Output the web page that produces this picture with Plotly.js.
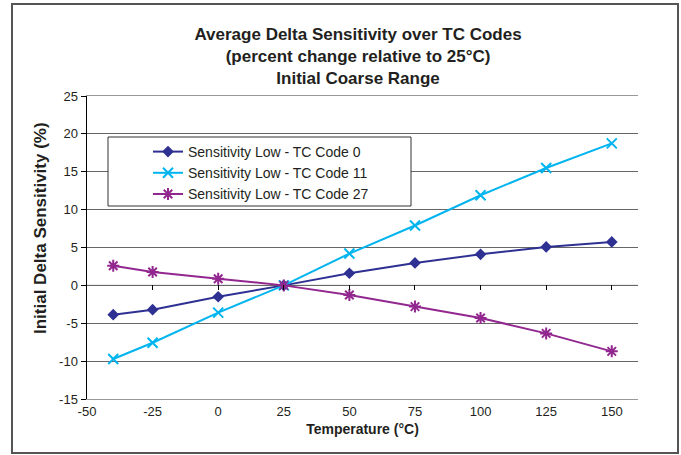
<!DOCTYPE html>
<html>
<head>
<meta charset="utf-8">
<script src="https://cdn.plot.ly/plotly-3.0.1.min.js"></script>
<style>html,body{margin:0;padding:0;background:#fff;}#chart{width:681px;height:455px;}</style>
</head>
<body>
<div id="chart"></div>
<script>
const temperatures = [-40, -25, 0, 25, 50, 75, 100, 125, 150];
const tcCode0 = [-3.87, -3.21, -1.5, 0, 1.6, 2.96, 4.1, 5.07, 5.73];
const tcCode11 = [-9.72, -7.57, -3.6, 0, 4.2, 7.9, 11.9, 15.5, 18.75];
const tcCode27 = [2.6, 1.77, 0.88, 0, -1.26, -2.8, -4.3, -6.34, -8.71];
const seriesNames = ["Sensitivity Low - TC Code 0", "Sensitivity Low - TC Code 11", "Sensitivity Low - TC Code 27"];
const xTicks = [-50, -25, 0, 25, 50, 75, 100, 125, 150];
const yTicks = [-15, -10, -5, 0, 5, 10, 15, 20, 25];

const FONT = "Liberation Sans, Arial, sans-serif";

const traces = [
  {x: [0], y: [0], xaxis: "x2", yaxis: "y2", mode: "markers", marker: {opacity: 0}, showlegend: false, hoverinfo: "skip"},
  {x: temperatures, y: tcCode0, name: seriesNames[0], mode: "lines+markers", type: "scatter",
   line: {color: "#2E3192", width: 2}, marker: {symbol: "diamond", size: 9, color: "#2E3192"}},
  {x: temperatures, y: tcCode11, name: seriesNames[1], mode: "lines+markers", type: "scatter",
   line: {color: "#00B4F0", width: 2}, marker: {symbol: "x-thin-open", size: 10, color: "#00B4F0", line: {color: "#00B4F0", width: 2}}},
  {x: temperatures, y: tcCode27, name: seriesNames[2], mode: "lines+markers", type: "scatter",
   line: {color: "#92278F", width: 2}, marker: {symbol: "asterisk-open", size: 10, color: "#92278F", line: {color: "#92278F", width: 2}}}
];

const L = 87, R = 638, T = 96, B = 399, W = 681, H = 455;
const pw = R - L, ph = B - T;
function px(x){ return (x - L) / pw; }
function py(y){ return (B - y) / ph; }

const layout = {
  width: W, height: H,
  margin: {l: L, r: W - R, t: T, b: H - B, pad: 0},
  paper_bgcolor: "#fff", plot_bgcolor: "rgba(0,0,0,0)",
  font: {family: FONT, size: 13, color: "#000"},
  title: {
    text: "<b>Average Delta Sensitivity over TC Codes<br>(percent change relative to 25°C)<br>Initial Coarse Range</b>",
    font: {family: FONT, size: 17, color: "#231F20"},
    x: 335 / W, xanchor: "center", y: 1 - 40 / H, yanchor: "middle", xref: "paper", yref: "container"
  },
  xaxis: {
    range: [-50, 160], tickvals: xTicks, ticktext: xTicks.map(String),
    showgrid: false, zeroline: false, showline: true, linecolor: "#999", linewidth: 1, mirror: true,
    ticks: "", tickfont: {family: FONT, size: 13, color: "#231F20"},
    title: {text: "<b>Temperature (°C)</b>", font: {family: FONT, size: 14, color: "#231F20"}, standoff: 6},
    fixedrange: true
  },
  xaxis2: {
    anchor: "y2", side: "top", range: [-50, 160], tickvals: xTicks.slice(1),
    showticklabels: false, ticks: "inside", ticklen: 5, tickcolor: "#000", tickwidth: 1,
    showgrid: false, zeroline: false, showline: false
  },
  yaxis2: {
    domain: [0, 15 / 40], range: [-15, 0], visible: false, anchor: "x2"
  },
  yaxis: {
    range: [-15, 25], tickvals: yTicks, ticktext: yTicks.map(String),
    showgrid: true, gridcolor: "#666", gridwidth: 1, zeroline: false,
    showline: true, linecolor: "#000", linewidth: 1.5,
    ticks: "outside", ticklen: 5, tickcolor: "#000", tickfont: {family: FONT, size: 13, color: "#231F20"},
    fixedrange: true
  },
  annotations: [
    {text: "<b>Initial Delta Sensitivity (%)</b>", textangle: -90, xref: "paper", yref: "paper",
     x: px(40), y: py(228), xanchor: "center", yanchor: "middle", showarrow: false,
     font: {family: FONT, size: 17, color: "#231F20"}}
  ],
  showlegend: true,
  legend: {
    x: px(148), y: py(136), xanchor: "left", yanchor: "top",
    bgcolor: "rgba(0,0,0,0)", borderwidth: 0,
    font: {family: FONT, size: 14, color: "#231F20"}, itemwidth: 30
  },
  shapes: [
    {type: "rect", xref: "paper", yref: "paper", x0: px(108), x1: px(411), y0: py(206), y1: py(137),
     fillcolor: "#fff", line: {color: "#333", width: 1}, layer: "above"},
    {type: "rect", xref: "paper", yref: "paper", x0: px(12), x1: px(678), y0: py(453), y1: py(4),
     fillcolor: "rgba(0,0,0,0)", line: {color: "#555", width: 2}, layer: "above"},
    {type: "line", xref: "paper", yref: "y", x0: 0, x1: 1, y0: 0, y1: 0, line: {color: "#666", width: 1}, layer: "below"}
  ]
};

Plotly.newPlot("chart", traces, layout, {displayModeBar: false, staticPlot: true});
</script>
</body>
</html>
